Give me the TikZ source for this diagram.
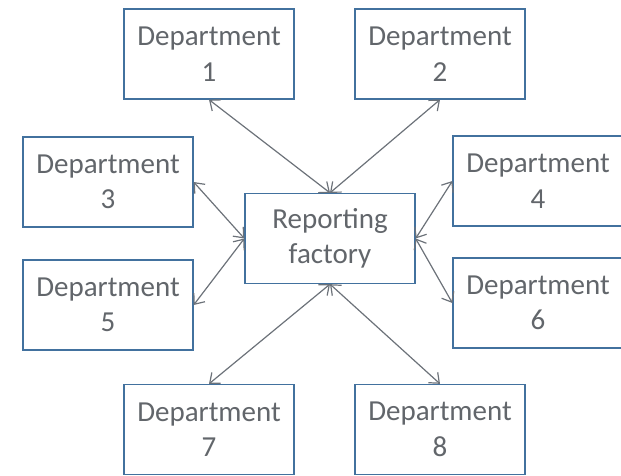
\documentclass[tikz,border=0pt]{standalone}
\usepackage{fontspec}
\setmainfont{Carlito}
\usetikzlibrary{arrows.meta}
\definecolor{boxblue}{RGB}{66,113,158}
\definecolor{txtgray}{RGB}{98,102,107}
\definecolor{linkgray}{RGB}{108,114,121}
\tikzset{
  dept/.style={draw=boxblue, line width=1.3pt, fill=white, minimum width=170pt,
    minimum height=90pt, inner sep=0pt, text=txtgray, align=center,
    font=\fontsize{29}{35.5}\selectfont},
  link/.style={draw=linkgray, line width=1.2pt,
    {Straight Barb[length=8.5pt,width=14pt]}-{Straight Barb[length=8.5pt,width=14pt]}}
}
\begin{document}
\begin{tikzpicture}[x=1pt,y=-1pt]
  \useasboundingbox (0,0) rectangle (621,476);
  % departments around the hub
  \node[dept] (d1) at (209,54) {Department\\1};
  \node[dept] (d2) at (440,54) {Department\\2};
  \node[dept] (d3) at (108,182) {Department\\3};
  \node[dept] (d4) at (538,181) {Department\\4};
  \node[dept] (d5) at (108,305) {Department\\5};
  \node[dept] (d6) at (538,303) {Department\\6};
  \node[dept] (d7) at (209,429.5) {Department\\7};
  \node[dept] (d8) at (440,429.5) {Department\\8};
  % central hub
  \node[dept] (rf) at (330,238.5) {Reporting\\factory};
  % two-way links
  \draw[link] (d1.south) -- (rf.north);
  \draw[link] (d2.south) -- (rf.north);
  \draw[link] (d3.east) -- (rf.west);
  \draw[link] (d5.east) -- (rf.west);
  \draw[link] (d4.west) -- (rf.east);
  \draw[link] (d6.west) -- (rf.east);
  \draw[link] (d7.north) -- (rf.south);
  \draw[link] (d8.north) -- (rf.south);
\end{tikzpicture}
\end{document}
